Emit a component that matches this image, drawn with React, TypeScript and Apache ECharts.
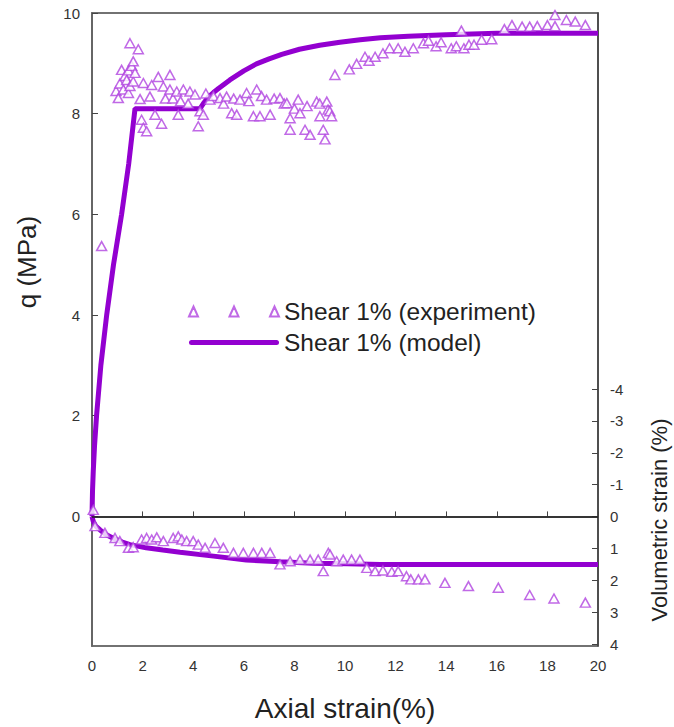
import React, { useEffect, useRef } from "react";
import * as echarts from "echarts";

// Axial strain (%), q (MPa)
const qExperiment: number[][] = [
  [0.05, 0.13], [0.38, 5.37],
  [0.95, 8.45], [1.04, 8.31], [1.1, 8.6], [1.17, 8.87], [1.24, 8.48], [1.3, 8.75], [1.37, 8.67],
  [1.44, 8.86], [1.44, 8.41], [1.5, 9.4], [1.5, 8.55], [1.57, 8.95], [1.63, 9.04], [1.63, 8.64],
  [1.7, 8.81], [1.83, 9.28], [1.9, 8.29], [1.96, 7.88], [2.03, 8.61], [2.03, 7.72], [2.16, 7.65],
  [2.29, 8.34], [2.36, 8.57], [2.49, 7.98], [2.62, 8.73], [2.75, 7.8], [2.82, 8.54], [2.9, 8.3],
  [3.08, 8.77], [3.08, 8.48], [3.2, 8.3], [3.35, 8.44], [3.41, 7.98], [3.5, 8.25], [3.61, 8.48],
  [3.8, 8.2], [3.87, 8.44], [4.07, 8.38], [4.2, 7.75], [4.27, 8.05], [4.4, 7.98], [4.5, 8.4],
  [4.66, 8.28], [4.8, 8.35], [5.06, 8.31], [5.2, 8.2], [5.32, 8.34], [5.52, 8.01], [5.6, 8.3],
  [5.72, 7.98], [5.85, 8.28], [6.11, 8.41], [6.2, 8.25], [6.38, 7.95], [6.51, 8.48], [6.64, 7.95],
  [6.7, 8.35], [6.9, 8.28], [7.04, 7.98], [7.2, 8.3], [7.43, 8.31], [7.6, 8.2], [7.7, 8.21],
  [7.83, 7.91], [7.83, 7.68], [8.0, 8.1], [8.15, 8.28], [8.22, 8.01], [8.42, 7.68], [8.5, 8.15],
  [8.62, 7.58], [8.88, 8.24], [9.0, 8.2], [9.01, 7.95], [9.14, 7.68], [9.21, 7.49], [9.28, 8.24],
  [9.33, 8.08], [9.4, 8.05], [9.47, 7.95],
  [9.6, 8.77], [10.17, 8.88], [10.46, 8.99], [10.79, 9.13], [10.95, 9.05], [11.19, 9.13],
  [11.5, 9.2], [11.76, 9.3], [12.1, 9.3], [12.37, 9.23], [12.7, 9.3], [13.1, 9.4], [13.3, 9.45],
  [13.6, 9.34], [13.8, 9.42], [14.2, 9.3], [14.4, 9.34], [14.6, 9.65], [14.7, 9.3], [14.9, 9.37],
  [15.1, 9.37], [15.4, 9.47], [15.8, 9.48], [16.3, 9.68], [16.6, 9.76], [17.0, 9.73], [17.3, 9.73],
  [17.6, 9.74], [18.0, 9.76], [18.3, 9.96], [18.3, 9.74], [18.75, 9.86], [19.1, 9.83], [19.5, 9.76],
];

const qModel: number[][] = [
  [0, 0], [0.02, 0.5], [0.05, 0.9], [0.1, 1.4], [0.18, 2], [0.35, 3], [0.58, 4], [0.85, 5],
  [1.17, 6], [1.45, 7], [1.7, 8.1], [4.27, 8.1], [4.4, 8.2], [4.6, 8.33], [4.8, 8.42], [5, 8.5],
  [5.45, 8.67], [6, 8.85], [6.5, 8.99], [7, 9.09], [7.5, 9.18], [8.2, 9.28], [9, 9.36],
  [9.8, 9.42], [10.6, 9.47], [11.4, 9.51], [12.5, 9.54], [14, 9.57], [16, 9.6], [20, 9.6],
];

// Axial strain (%), volumetric strain (%)
const volExperiment: number[][] = [
  [0.12, 0.3], [0.51, 0.51], [0.91, 0.67], [1.1, 0.77], [1.44, 0.98], [1.63, 0.96], [1.96, 0.72],
  [2.16, 0.67], [2.36, 0.72], [2.56, 0.65], [2.82, 0.77], [3.21, 0.67], [3.41, 0.62], [3.55, 0.72],
  [3.74, 0.77], [4.0, 0.77], [4.2, 0.88], [4.47, 0.98], [4.86, 0.83], [5.19, 0.98], [5.59, 1.14],
  [5.98, 1.14], [6.38, 1.14], [6.71, 1.14], [7.04, 1.14], [7.43, 1.5], [7.83, 1.4], [8.22, 1.35],
  [8.62, 1.35], [8.94, 1.35], [9.14, 1.71], [9.34, 1.14], [9.41, 1.19], [9.67, 1.4], [9.93, 1.35],
  [10.26, 1.35], [10.59, 1.35], [10.86, 1.61], [11.19, 1.71], [11.5, 1.69], [11.85, 1.73],
  [12.1, 1.71], [12.43, 1.87], [12.6, 1.97], [12.9, 1.97], [13.16, 1.97], [13.95, 2.08],
  [14.88, 2.18], [16.06, 2.23], [17.3, 2.46], [18.26, 2.57], [19.5, 2.7],
];

const volModel: number[][] = [
  [0, 0], [0.05, 0.15], [0.15, 0.3], [0.32, 0.42], [0.55, 0.56], [0.84, 0.68], [1.2, 0.8],
  [1.5, 0.88], [2.14, 0.98], [2.8, 1.05], [3.48, 1.12], [4.8, 1.24], [6.1, 1.36], [7.43, 1.42],
  [8.75, 1.46], [10.1, 1.48], [11.4, 1.5], [20, 1.5],
];

const xTicks = [0, 2, 4, 6, 8, 10, 12, 14, 16, 18, 20];
const qTicks = [0, 2, 4, 6, 8, 10];
const volTicks = [-4, -3, -2, -1, 0, 1, 2, 3, 4];

const EXP_NAME = "Shear 1% (experiment)";
const MODEL_NAME = "Shear 1% (model)";

const FONT = "Liberation Sans, Arial, sans-serif";
const MARK = "#b044e0";
const LINE = "#9300d0";
const AXIS = "#444";

export default function App() {
  const ref = useRef<HTMLDivElement>(null);

  useEffect(() => {
    if (!ref.current) return;
    const chart = echarts.init(ref.current, undefined, { renderer: "svg" });
    const triStyle = { color: "#ffffff", borderColor: MARK, borderWidth: 1.5 };
    chart.setOption({
      animation: false,
      textStyle: { fontFamily: FONT },
      grid: {
        left: 92, right: 76, top: 13, bottom: 72,
        show: true, borderColor: AXIS, borderWidth: 1.5, backgroundColor: "transparent",
      },
      legend: {
        orient: "vertical",
        left: 188,
        top: 299,
        padding: 0,
        itemWidth: 90,
        itemHeight: 10,
        itemGap: 6,
        selectedMode: false,
        textStyle: { fontSize: 24.5, color: "#222", fontFamily: FONT, lineHeight: 24 },
        data: [
          {
            name: EXP_NAME,
            icon: "path://M0,10L4.5,0L9,10Z M40.5,10L45,0L49.5,10Z M81,10L85.5,0L90,10Z",
          },
          {
            name: MODEL_NAME,
            icon: "path://M2.5,0L87.5,0A2.5,2.5,0,0,1,87.5,5L2.5,5A2.5,2.5,0,0,1,2.5,0Z",
            itemStyle: { color: LINE, borderWidth: 0 },
          },
        ],
      },
      xAxis: {
        type: "value",
        min: 0,
        max: 20,
        interval: 2,
        name: "Axial strain(%)",
        nameLocation: "middle",
        nameGap: 48,
        nameTextStyle: { fontSize: 28, color: "#222", fontFamily: FONT },
        axisLine: { show: true, lineStyle: { color: AXIS, width: 1.5 } },
        axisTick: { show: true, inside: true, length: 5, lineStyle: { color: AXIS } },
        axisLabel: { fontSize: 15, color: "#333", margin: 12, fontFamily: FONT },
        splitLine: { show: false },
        data: xTicks,
      },
      yAxis: [
        {
          type: "value",
          min: -2.574,
          max: 10,
          position: "left",
          axisLine: { show: true, lineStyle: { color: "#666", width: 2 } },
          axisTick: { show: true, inside: true, length: 6, customValues: qTicks, lineStyle: { color: AXIS } },
          axisLabel: { fontSize: 15, color: "#333", margin: 12, customValues: qTicks, fontFamily: FONT },
          splitLine: { show: false },
        },
        {
          type: "value",
          min: -15.8,
          max: 4.06,
          inverse: true,
          position: "right",
          axisLine: { show: true, lineStyle: { color: AXIS, width: 1.5 } },
          axisTick: { show: true, inside: true, length: 6, customValues: volTicks, lineStyle: { color: AXIS } },
          axisLabel: { fontSize: 15, color: "#333", margin: 12, customValues: volTicks, fontFamily: FONT },
          splitLine: { show: false },
        },
      ],
      graphic: [
        {
          type: "text",
          x: 27,
          y: 262,
          rotation: Math.PI / 2,
          style: {
            text: "q (MPa)",
            fontSize: 26,
            fontFamily: FONT,
            fill: "#222",
            align: "center",
            verticalAlign: "middle",
          },
        },
        {
          type: "text",
          x: 659,
          y: 520,
          rotation: Math.PI / 2,
          style: {
            text: "Volumetric strain (%)",
            fontSize: 22,
            fontFamily: FONT,
            fill: "#222",
            align: "center",
            verticalAlign: "middle",
          },
        },
      ],
      series: [
        {
          name: MODEL_NAME,
          type: "line",
          yAxisIndex: 0,
          data: qModel,
          symbol: "none",
          lineStyle: { color: LINE, width: 5 },
          itemStyle: { color: LINE },
          z: 2,
          markLine: {
            silent: true,
            symbol: "none",
            label: { show: false },
            lineStyle: { color: "#222", width: 1.5, type: "solid" },
            data: [{ yAxis: 0 }],
          },
        },
        {
          name: MODEL_NAME,
          type: "line",
          yAxisIndex: 1,
          data: volModel,
          symbol: "none",
          lineStyle: { color: LINE, width: 5 },
          itemStyle: { color: LINE },
          z: 2,
        },
        {
          name: EXP_NAME,
          type: "scatter",
          yAxisIndex: 0,
          data: qExperiment,
          symbol: "triangle",
          symbolSize: [10, 9],
          itemStyle: triStyle,
          z: 3,
        },
        {
          name: EXP_NAME,
          type: "scatter",
          yAxisIndex: 1,
          data: volExperiment,
          symbol: "triangle",
          symbolSize: [10, 9],
          itemStyle: triStyle,
          z: 3,
        },
      ],
    });
    return () => chart.dispose();
  }, []);

  return (
    <div
      ref={ref}
      style={{ position: "absolute", left: 0, top: 0, width: 674, height: 727 }}
    />
  );
}
